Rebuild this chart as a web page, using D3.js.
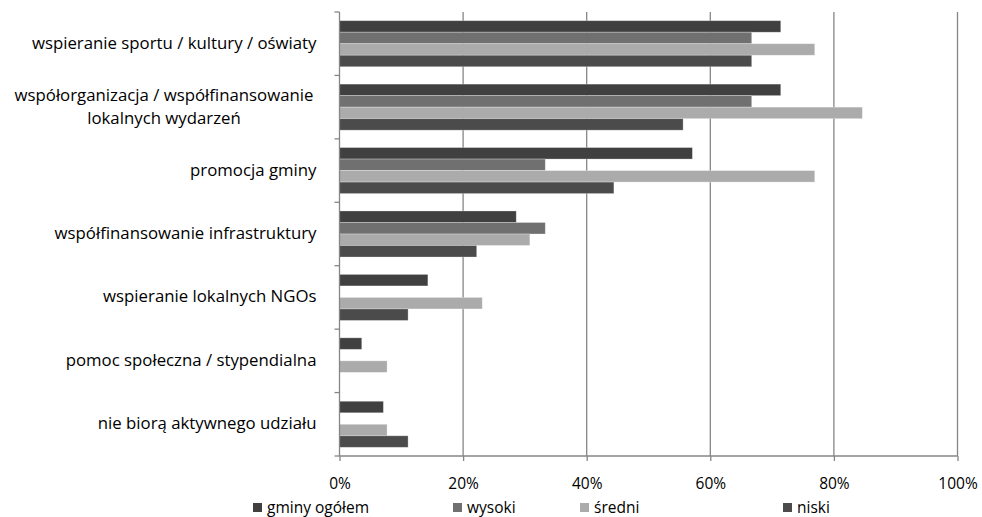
<!DOCTYPE html>
<html><head><meta charset="utf-8">
<script src="https://cdn.jsdelivr.net/npm/d3@7"></script>
<style>body{margin:0;background:#fff}svg{display:block}text{font-family:"Open Sans",sans-serif;fill:#000}</style>
</head><body>
<svg id="c" width="982" height="517"></svg>
<script>
const categories = [
  ["wspieranie sportu / kultury / oświaty"],
  ["współorganizacja / współfinansowanie", "lokalnych wydarzeń"],
  ["promocja gminy"],
  ["współfinansowanie infrastruktury"],
  ["wspieranie lokalnych NGOs"],
  ["pomoc społeczna / stypendialna"],
  ["nie biorą aktywnego udziału"]
];
const seriesNames = ["gminy ogółem", "wysoki", "średni", "niski"];
const gminyOgolem = [71.4, 71.4, 57.1, 28.6, 14.3, 3.6, 7.1];
const wysoki      = [66.7, 66.7, 33.3, 33.3, 0, 0, 0];
const sredni      = [76.9, 84.6, 76.9, 30.8, 23.1, 7.7, 7.7];
const niski       = [66.7, 55.6, 44.4, 22.2, 11.1, 0, 11.1];
const tickValues  = [0, 20, 40, 60, 80, 100];
const colors = ["#404040", "#707070", "#ababab", "#4b4b4b"];

const FS_CAT = 16.8, FS = 15.5;
const series = [gminyOgolem, wysoki, sredni, niski];
const svg = d3.select("#c");
const x = d3.scaleLinear().domain([0, 100]).range([339.5, 957.5]);
const y = d3.scaleBand().domain(d3.range(categories.length)).range([12, 456]).paddingInner(0.274).paddingOuter(0.137);
const y1 = d3.scaleBand().domain(d3.range(series.length)).range([0, y.bandwidth()]);

// gridlines
svg.append("g").selectAll("line").data(tickValues.slice(1)).join("line")
  .attr("x1", d => x(d)).attr("x2", d => x(d)).attr("y1", 12).attr("y2", 456)
  .attr("stroke", "#868686").attr("stroke-width", 1.3);

// bars
const groups = svg.append("g").selectAll("g").data(categories).join("g")
  .attr("transform", (d, i) => `translate(0,${y(i)})`);
groups.selectAll("rect").data((d, i) => series.map((s, k) => ({k, v: s[i]}))).join("rect")
  .attr("x", x(0)).attr("y", d => y1(d.k))
  .attr("width", d => x(d.v) - x(0)).attr("height", y1.bandwidth())
  .attr("fill", d => colors[d.k])
  .attr("stroke", d => d.v > 0 ? "rgba(255,255,255,0.35)" : "none").attr("stroke-width", 0.8);

// x axis
const xAxis = d3.axisBottom(x).tickValues(tickValues).tickFormat(d => d + "%").tickSize(5).tickSizeOuter(0);
const gx = svg.append("g").attr("transform", "translate(0,456)").call(xAxis);
gx.select(".domain").attr("stroke", "#868686").attr("stroke-width", 1.3).attr("d", `M${x(0)},0H${x(100)}`);
gx.selectAll(".tick line").attr("stroke", "#868686").attr("stroke-width", 1.3);
gx.selectAll(".tick text").attr("dy", 0).attr("y", 33).attr("font-size", FS).style("font-family", "'Open Sans', sans-serif");

// y axis line + ticks at category boundaries
const bounds = d3.range(categories.length + 1).map(i => 12 + i * (444 / categories.length));
svg.append("line").attr("x1", x(0)).attr("x2", x(0)).attr("y1", 12).attr("y2", 456).attr("stroke", "#868686").attr("stroke-width", 1.3);
svg.append("g").selectAll("line").data(bounds).join("line")
  .attr("x1", x(0) - 5).attr("x2", x(0)).attr("y1", d => d).attr("y2", d => d)
  .attr("stroke", "#868686").attr("stroke-width", 1.3);

// category labels
svg.append("g").selectAll("text").data(categories).join("text")
  .attr("font-size", FS_CAT)
  .each(function(lines, i) {
    const t = d3.select(this);
    const cy = y(i) + y.bandwidth() / 2;
    if (lines.length === 1) {
      t.attr("text-anchor", "end").attr("x", x(0) - 23).attr("y", cy + 5).text(lines[0]);
    } else {
      t.attr("text-anchor", "middle");
      lines.forEach((l, j) => t.append("tspan").attr("x", 164).attr("y", cy + 5 + (j - (lines.length - 1) / 2) * 23).text(l));
    }
  });

// legend
const legX = [253, 453, 580, 783];
const leg = svg.append("g").selectAll("g").data(seriesNames).join("g")
  .attr("transform", (d, i) => `translate(${legX[i]},503)`);
leg.append("rect").attr("x", 0).attr("y", 0).attr("width", 9).attr("height", 9).attr("fill", (d, i) => colors[i]);
leg.append("text").attr("x", 14).attr("y", 10).attr("font-size", FS).text(d => d);
</script>
</body></html>
